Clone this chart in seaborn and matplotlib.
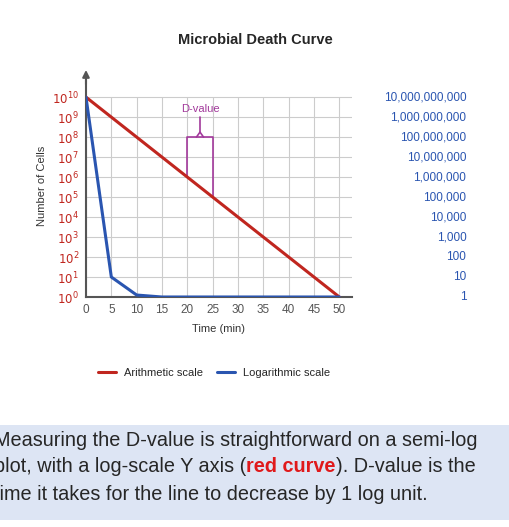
import numpy as np
import pandas as pd
import seaborn as sns
import matplotlib.pyplot as plt
from matplotlib.patches import Rectangle

sns.set_style("white")
plt.rcParams['font.family'] = ['Liberation Sans', 'DejaVu Sans']

# data (y in log10 units of cell count)
time_red = [0, 50]
log_red = [10, 0]
time_blue = [0, 5, 10, 15, 50]
log_blue = [10, 1, 0.1, 0, 0]
x_ticks = list(range(0, 55, 5))
y_exps = list(range(0, 11))
right_labels = ['1', '10', '100', '1,000', '10,000', '100,000', '1,000,000',
                '10,000,000', '100,000,000', '1,000,000,000', '10,000,000,000']

red = '#c0261f'
blue = '#2a55b0'
purple = '#a2399b'
gray = '#555555'

df = pd.concat([
    pd.DataFrame({'t': time_red, 'y': log_red, 's': 'Arithmetic scale'}),
    pd.DataFrame({'t': time_blue, 'y': log_blue, 's': 'Logarithmic scale'}),
])

fig = plt.figure(figsize=(5.1, 5.27), dpi=100)
ax = fig.add_axes([0.1686, 0.4364, 0.5216, 0.421])
sns.lineplot(data=df, x='t', y='y', hue='s', palette=[red, blue], linewidth=2.2,
             ax=ax, legend=False, zorder=3)
ax.set_xlim(0, 52.5)
ax.set_ylim(0, 11.1)
ax.set_xticks(x_ticks)
ax.set_xticklabels([str(v) for v in x_ticks], color=gray, fontsize=8.5)
ax.set_yticks(y_exps)
ax.set_yticklabels([r'$10^{%d}$' % e for e in y_exps], color=red, fontsize=8.5)
for v in x_ticks:
    ax.plot([v, v], [0, 10], color='#cccccc', lw=0.8, zorder=1)
for e in y_exps:
    ax.plot([0, 52.5], [e, e], color='#cccccc', lw=0.8, zorder=1)
for sp in ['top', 'right']:
    ax.spines[sp].set_visible(False)
ax.spines['left'].set_color(gray)
ax.spines['bottom'].set_color(gray)
ax.spines['left'].set_linewidth(1.5)
ax.spines['bottom'].set_linewidth(1.5)
ax.tick_params(axis='both', length=3, color=gray, pad=2)
ax.annotate('', xy=(0, 11.5), xytext=(0, 10.5), annotation_clip=False,
            arrowprops=dict(arrowstyle='-|>', color=gray, lw=1.5))
ax.set_xlabel('Time (min)', fontsize=8, color='#333333', labelpad=6)
ax.set_ylabel('Number of Cells', fontsize=8, color='#333333', labelpad=4)

# right blue labels
for e, lab in zip(y_exps, right_labels):
    ax.text(1.43, e, lab, transform=ax.get_yaxis_transform(), ha='right',
            va='center', color=blue, fontsize=8.5)

# D-value bracket
ax.plot([20, 20, 25, 25], [6, 8, 8, 5], color=purple, lw=1.2, zorder=2)
ax.plot([21.8, 22.5, 23.2], [8, 8.25, 8], color=purple, lw=1.2, zorder=2)
ax.plot([22.5, 22.5], [8.25, 9], color=purple, lw=1.2, zorder=2)
ax.text(22.5, 9.4, 'D-value', color=purple, fontsize=8, ha='center', va='center')

fig.text(0.5, 0.925, 'Microbial Death Curve', ha='center', va='center',
         fontsize=10.5, fontweight='bold')

ax.plot([], [], color=red, lw=2.2, label='Arithmetic scale')
ax.plot([], [], color=blue, lw=2.2, label='Logarithmic scale')
fig.legend(loc='center', bbox_to_anchor=(0.42, 0.292), ncol=2, frameon=False,
           fontsize=8, handlelength=1.6, columnspacing=1.2)

# caption box
fig.patches.append(Rectangle((0, 7 / 527), 1, 95 / 527, transform=fig.transFigure,
                             facecolor='#dde5f4', edgecolor='none', zorder=0))
fs = 14.3
x0 = -0.012
fig.text(x0, 1 - 440 / 527, 'Measuring the D-value is straightforward on a semi-log',
         fontsize=fs, va='center')
y2 = 1 - 467 / 527
t1 = fig.text(x0, y2, 'plot, with a log-scale Y axis (', fontsize=fs, va='center')
fig.canvas.draw()
r = fig.canvas.get_renderer()
x1 = x0 + t1.get_window_extent(r).width / fig.bbox.width
t2 = fig.text(x1, y2, 'red curve', fontsize=fs, va='center', color='#e0191b',
              fontweight='bold')
x2 = x1 + t2.get_window_extent(r).width / fig.bbox.width
fig.text(x2, y2, '). D-value is the', fontsize=fs, va='center')
fig.text(x0, 1 - 494 / 527, 'time it takes for the line to decrease by 1 log unit.',
         fontsize=fs, va='center')

fig.savefig('out.png', dpi=100)
